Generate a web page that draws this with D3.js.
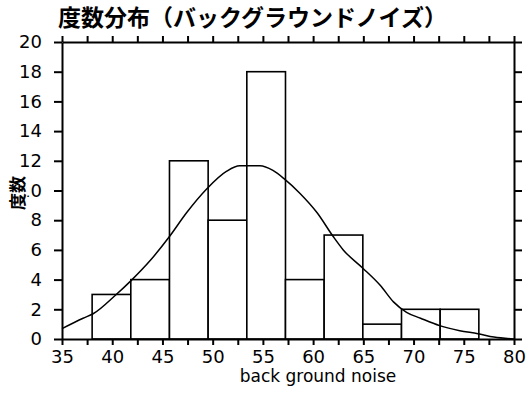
<!DOCTYPE html>
<html><head><meta charset="utf-8">
<script src="https://cdn.jsdelivr.net/npm/d3@7"></script>
<style>
html,body{margin:0;padding:0;background:#fff;}
svg{display:block;}
</style></head>
<body>
<svg id="chart" width="527" height="414"></svg>
<script>
const titleText = "度数分布（バックグラウンドノイズ）";
const xLabel = "back ground noise";
const yLabel = "度数";
const binEdges = [38.0, 41.85, 45.7, 49.55, 53.4, 57.25, 61.1, 64.95, 68.8, 72.65, 76.5];
const counts = [3, 4, 12, 8, 18, 4, 7, 1, 2, 2];
const curveX = [35, 37.1, 38.1, 40.4, 41.9, 43.8, 45.7, 47.4, 49.4, 51.4, 52.7, 54.7, 56.0, 57.1, 58.7, 60.4, 62.0, 63.0, 64.9, 66.7, 68.0, 69.3, 70.7, 72.6, 74.6, 76.4, 78.0, 80.0];
const curveY = [0.7, 1.4, 1.7, 3.0, 3.95, 5.3, 6.9, 8.5, 10.1, 11.3, 11.66, 11.66, 11.35, 10.8, 9.8, 8.5, 6.9, 6.0, 4.8, 3.6, 2.5, 1.8, 1.4, 0.9, 0.56, 0.36, 0.13, 0.0];
const xTicks = d3.range(35, 80.01, 2.5);
const xTickLabels = ["35","40","45","50","55","60","65","70","75","80"];
const yTicks = d3.range(0, 20.01, 2);

const svg = d3.select("#chart");
const L = 62, R = 514, T = 42, B = 339;
const x = d3.scaleLinear().domain([35, 80]).range([L, R]);
const y = d3.scaleLinear().domain([0, 20]).range([B, T]);

// bars
const bars = counts.map((c, i) => ({x0: binEdges[i], x1: binEdges[i + 1], c}));
svg.append("g").selectAll("rect").data(bars).join("rect")
  .attr("x", d => x(d.x0)).attr("width", d => x(d.x1) - x(d.x0))
  .attr("y", d => y(d.c)).attr("height", d => y(0) - y(d.c))
  .attr("fill", "#fff").attr("stroke", "#000").attr("stroke-width", 1.6);

// curve
const pts = curveX.map((v, i) => [v, curveY[i]]);
svg.append("path").datum(pts)
  .attr("d", d3.line().x(d => x(d[0])).y(d => y(d[1])).curve(d3.curveMonotoneX))
  .attr("fill", "none").attr("stroke", "#000").attr("stroke-width", 1.5);

const font = "'DejaVu Sans', Verdana, sans-serif";
function styleAxis(g) {
  g.selectAll(".domain").attr("stroke-width", 2);
  g.selectAll(".tick line").attr("stroke-width", 2);
  g.selectAll("text").attr("font-family", font).attr("font-size", 18).attr("fill", "#000");
}
const fmtX = v => (v % 5 === 0 ? xTickLabels[(v - 35) / 5] : "");

svg.append("g").attr("transform", `translate(0,${B})`)
  .call(d3.axisBottom(x).tickValues(xTicks).tickSize(6).tickSizeOuter(0).tickPadding(5).tickFormat(fmtX))
  .call(styleAxis);
svg.append("g").attr("transform", `translate(0,${T})`)
  .call(d3.axisTop(x).tickValues(xTicks).tickSize(6).tickSizeOuter(0).tickFormat(""))
  .call(styleAxis);
svg.append("g").attr("transform", `translate(${L},0)`)
  .call(d3.axisLeft(y).tickValues(yTicks).tickSize(8).tickSizeOuter(0).tickPadding(12).tickFormat(d3.format("d")))
  .call(styleAxis);
svg.append("g").attr("transform", `translate(${R},0)`)
  .call(d3.axisRight(y).tickValues(yTicks).tickSize(8).tickSizeOuter(0).tickFormat(""))
  .call(styleAxis);

// title
svg.append("text").attr("x", 58).attr("y", 26)
  .attr("font-family", "'Noto Sans CJK JP', sans-serif").attr("font-weight", "bold")
  .attr("font-size", 23).text(titleText);

// x label
svg.append("text").attr("x", 318).attr("y", 382).attr("text-anchor", "middle")
  .attr("font-family", font).attr("font-size", 17).text(xLabel);

// y label
svg.append("text").attr("transform", "translate(24,193) rotate(-90)").attr("text-anchor", "middle")
  .attr("font-family", "'Noto Sans CJK JP', sans-serif").attr("font-weight", "bold")
  .attr("font-size", 17).attr("stroke", "#fff").attr("stroke-width", 3).attr("paint-order", "stroke")
  .text(yLabel);
</script>
</body></html>
